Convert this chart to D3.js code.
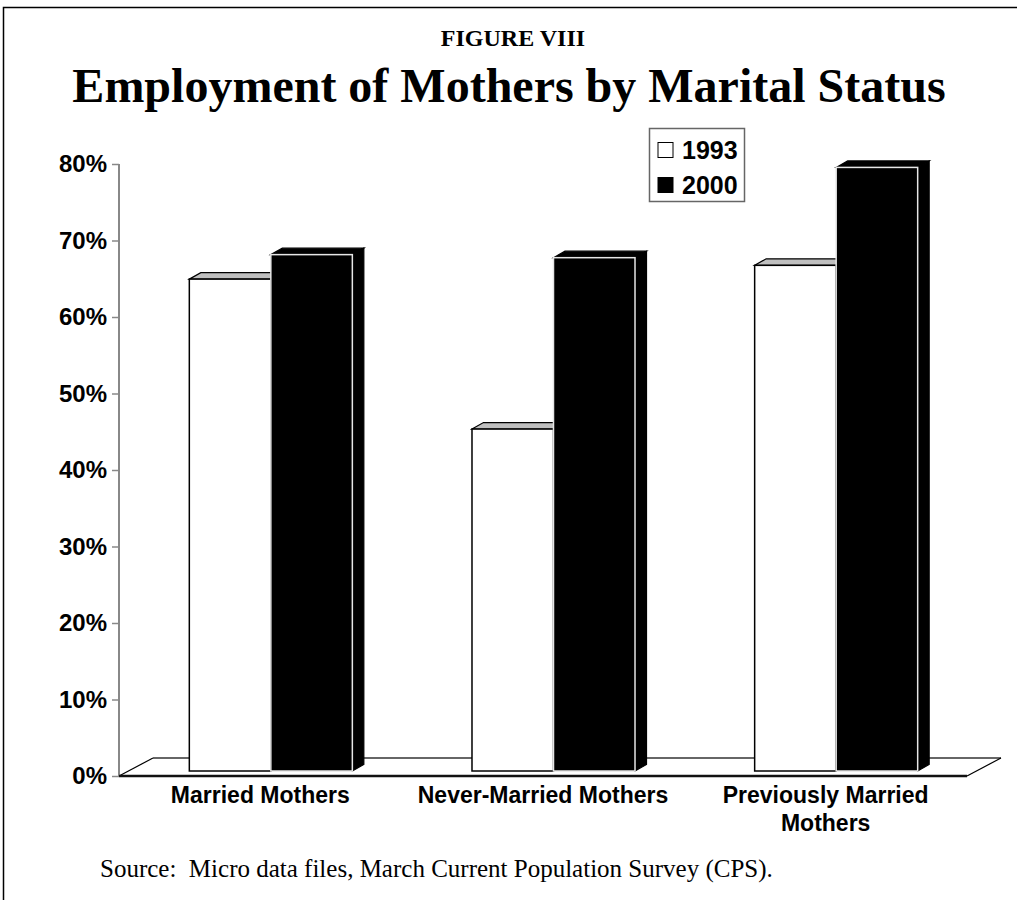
<!DOCTYPE html>
<html>
<head>
<meta charset="utf-8">
<script src="https://cdn.jsdelivr.net/npm/d3@7"></script>
<style>
  body { margin: 0; background: #fff; }
</style>
</head>
<body>
<script>
  // data
  const categories = ['Married Mothers', 'Never-Married Mothers', 'Previously Married Mothers'];
  const seriesNames = ['1993', '2000'];
  const values1993 = [64.3, 44.7, 66.1];
  const values2000 = [67.5, 67.1, 78.9];
  const yTicks = [0, 10, 20, 30, 40, 50, 60, 70, 80];

  const W = 1017, H = 900;
  const sans = '"Liberation Sans", Arial, sans-serif';
  const serif = '"Liberation Serif", "Times New Roman", serif';

  const svg = d3.select('body').append('svg')
      .attr('width', W)
      .attr('height', H);

  svg.append('rect').attr('width', W).attr('height', H).attr('fill', '#fff');

  // page frame (top and left only)
  svg.append('path')
      .attr('d', 'M3.5,900 V7.5 H1017')
      .attr('fill', 'none')
      .attr('stroke', '#000')
      .attr('stroke-width', 1.5);

  svg.append('text')
      .attr('x', 513).attr('y', 46)
      .attr('text-anchor', 'middle')
      .attr('font-family', serif)
      .attr('font-weight', 'bold')
      .attr('font-size', 24)
      .text('FIGURE VIII');

  svg.append('text')
      .attr('x', 509).attr('y', 102)
      .attr('text-anchor', 'middle')
      .attr('font-family', serif)
      .attr('font-weight', 'bold')
      .attr('font-size', 48)
      .text('Employment of Mothers by Marital Status');

  // scales
  const x = d3.scaleBand()
      .domain(categories)
      .range([119, 967]);

  const xInner = d3.scaleBand()
      .domain(seriesNames)
      .range([0, x.bandwidth()])
      .paddingInner(0)
      .paddingOuter(0.734);

  const y = d3.scaleLinear()
      .domain([0, 80])
      .range([776, 164]);

  // 3D offsets
  const floorDepth = { dx: 34, dy: -18 };
  const barShift = { dx: 10.5, dy: -5 };
  const barDepth = { dx: 11.5, dy: -6.5 };

  // floor
  const [fx0, fx1] = x.range();
  const fy = y(0);
  const floor = svg.append('g');
  floor.append('line')
      .attr('x1', fx0 + floorDepth.dx).attr('y1', fy + floorDepth.dy)
      .attr('x2', fx1 + floorDepth.dx).attr('y2', fy + floorDepth.dy)
      .attr('stroke', '#333').attr('stroke-width', 1.5);
  floor.append('line')
      .attr('x1', fx0).attr('y1', fy)
      .attr('x2', fx0 + floorDepth.dx).attr('y2', fy + floorDepth.dy)
      .attr('stroke', '#000').attr('stroke-width', 1.2);
  floor.append('line')
      .attr('x1', fx1).attr('y1', fy)
      .attr('x2', fx1 + floorDepth.dx).attr('y2', fy + floorDepth.dy)
      .attr('stroke', '#000').attr('stroke-width', 1.2);

  // y axis
  const yAxis = svg.append('g')
      .attr('transform', `translate(${fx0},0)`)
      .call(d3.axisLeft(y).tickValues(yTicks).tickFormat(d => d + '%').tickSize(7).tickPadding(5));
  yAxis.select('.domain')
      .attr('d', `M0,${y(80)}V${y(0)}`)
      .attr('stroke', '#888').attr('stroke-width', 2);
  yAxis.selectAll('.tick line').attr('stroke', '#888').attr('stroke-width', 1.5);
  yAxis.selectAll('.tick text')
      .attr('font-family', sans)
      .attr('font-weight', 'bold')
      .attr('font-size', 24)
      .attr('fill', '#000');

  // bars
  const rows = [];
  categories.forEach((c, i) => {
    rows.push({ cat: c, series: '1993', value: values1993[i] });
    rows.push({ cat: c, series: '2000', value: values2000[i] });
  });

  const style = {
    '1993': { front: '#fff', top: '#c0c0c0', side: '#fff', stroke: '#000', edge: '#000' },
    '2000': { front: '#000', top: '#000', side: '#000', stroke: '#000', edge: '#e6e6e6' }
  };

  const bars = svg.append('g').selectAll('g')
    .data(rows)
    .join('g');

  bars.each(function (d) {
    const g = d3.select(this);
    const s = style[d.series];
    const x0 = x(d.cat) + xInner(d.series) + barShift.dx;
    const x1 = x0 + xInner.bandwidth();
    const yT = y(d.value) + barShift.dy;
    const yB = y(0) + barShift.dy;
    const { dx, dy } = barDepth;

    g.append('polygon')
        .attr('points', [[x1, yT], [x1 + dx, yT + dy], [x1 + dx, yB + dy], [x1, yB]].join(' '))
        .attr('fill', s.side).attr('stroke', s.stroke).attr('stroke-width', 1.2);
    g.append('polygon')
        .attr('points', [[x0, yT], [x0 + dx, yT + dy], [x1 + dx, yT + dy], [x1, yT]].join(' '))
        .attr('fill', s.top).attr('stroke', s.stroke).attr('stroke-width', 1.2);
    g.append('rect')
        .attr('x', x0).attr('y', yT)
        .attr('width', x1 - x0).attr('height', yB - yT)
        .attr('fill', s.front).attr('stroke', s.edge).attr('stroke-width', 1.5);
  });

  // front edge of the floor
  svg.append('line')
      .attr('x1', fx0).attr('y1', fy)
      .attr('x2', fx1).attr('y2', fy)
      .attr('stroke', '#111').attr('stroke-width', 2.5);

  // category labels, wrapped to the band width
  const catLabels = svg.append('g')
      .attr('font-family', sans)
      .attr('font-weight', 'bold')
      .attr('font-size', 23)
      .attr('text-anchor', 'middle');

  categories.forEach(c => {
    const cx = x(c) + x.bandwidth() / 2;
    const t = catLabels.append('text')
        .attr('x', cx)
        .attr('y', 803);
    let line = [];
    let tspan = t.append('tspan').attr('x', cx).attr('dy', 0);
    c.split(' ').forEach(w => {
      line.push(w);
      tspan.text(line.join(' '));
      if (tspan.node().getComputedTextLength() > x.bandwidth() - 30 && line.length > 1) {
        line.pop();
        tspan.text(line.join(' '));
        line = [w];
        tspan = t.append('tspan').attr('x', cx).attr('dy', 28).text(w);
      }
    });
  });

  // legend
  const legend = svg.append('g').attr('transform', 'translate(649,128)');
  legend.append('rect')
      .attr('x', 0.5).attr('y', 0.5)
      .attr('width', 95).attr('height', 73)
      .attr('fill', '#fff').attr('stroke', '#666').attr('stroke-width', 1.5);
  const items = legend.selectAll('g.item')
    .data(seriesNames)
    .join('g')
      .attr('class', 'item')
      .attr('transform', (d, i) => `translate(9, ${22 + i * 35})`);
  items.append('rect')
      .attr('x', 0).attr('y', -7.5)
      .attr('width', 15).attr('height', 15)
      .attr('fill', d => style[d].front)
      .attr('stroke', '#000').attr('stroke-width', 1);
  items.append('text')
      .attr('x', 24).attr('dy', '0.36em')
      .attr('font-family', sans)
      .attr('font-weight', 'bold')
      .attr('font-size', 25)
      .text(d => d);

  // source note
  svg.append('text')
      .attr('x', 100).attr('y', 877)
      .attr('font-family', serif)
      .attr('font-size', 25)
      .attr('xml:space', 'preserve')
      .style('white-space', 'pre')
      .text('Source:  Micro data files, March Current Population Survey (CPS).');
</script>
</body>
</html>
